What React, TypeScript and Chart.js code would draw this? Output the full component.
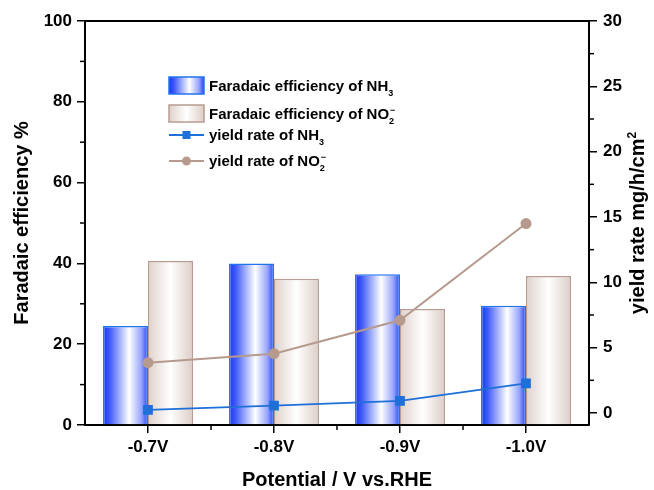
import React, { useEffect, useRef } from 'react';
import { Chart, registerables } from 'chart.js';

Chart.register(...registerables);

// ---------- data ----------
const categories = ['-0.7V', '-0.8V', '-0.9V', '-1.0V'];
const feNH3 = [24.5, 40.0, 37.3, 29.5];
const feNO2 = [40.6, 36.2, 28.7, 36.9];
const yieldNH3 = [0.23, 0.56, 0.92, 2.27];
const yieldNO2 = [3.85, 4.54, 7.09, 14.5];
const leftMajorTicks = [0, 20, 40, 60, 80, 100];
const leftMinorTicks = [10, 30, 50, 70, 90];
const rightMajorTicks = [0, 5, 10, 15, 20, 25, 30];
const rightMinorTicks = [2.5, 7.5, 12.5, 17.5, 22.5, 27.5];

type Seg = { t: string; k?: 'sub' | 'sup' };
const legendNH3FE: Seg[] = [{ t: 'Faradaic efficiency of NH' }, { t: '3', k: 'sub' }];
const legendNO2FE: Seg[] = [{ t: 'Faradaic efficiency of NO' }, { t: '2', k: 'sub' }, { t: '\u2212', k: 'sup' }];
const legendNH3Y: Seg[] = [{ t: 'yield rate of NH' }, { t: '3', k: 'sub' }];
const legendNO2Y: Seg[] = [{ t: 'yield rate of NO' }, { t: '2', k: 'sub' }, { t: '\u2212', k: 'sup' }];
const leftTitle: Seg[] = [{ t: 'Faradaic efficiency %' }];
const rightTitle: Seg[] = [{ t: 'yield rate mg/h/cm' }, { t: '2', k: 'sup' }];
const bottomTitle: Seg[] = [{ t: 'Potential / V vs.RHE' }];

const FONT = '"Liberation Sans", Arial, Helvetica, sans-serif';
const BLUE_BORDER = '#1f74ee';
const BEIGE_BORDER = '#b89c90';
const NH3_LINE = '#1d6fd9';
const NO2_LINE = '#b69a8d';

function blueGrad(ctx: CanvasRenderingContext2D, x0: number, x1: number) {
  const g = ctx.createLinearGradient(x0, 0, x1, 0);
  g.addColorStop(0, '#1e36f4');
  g.addColorStop(0.14, '#3c58f7');
  g.addColorStop(0.58, '#ffffff');
  g.addColorStop(0.85, '#98a6fb');
  g.addColorStop(1, '#2844f5');
  return g;
}
function beigeGrad(ctx: CanvasRenderingContext2D, x0: number, x1: number) {
  const g = ctx.createLinearGradient(x0, 0, x1, 0);
  g.addColorStop(0, '#dfd1cb');
  g.addColorStop(0.5, '#ffffff');
  g.addColorStop(1, '#dccdc6');
  return g;
}

function segFont(size: number, k?: string) {
  const s = k ? Math.round(size * 0.62) : size;
  return `bold ${s}px ${FONT}`;
}
function richWidth(ctx: CanvasRenderingContext2D, segs: Seg[], size: number) {
  let w = 0;
  segs.forEach((s, i) => {
    ctx.font = segFont(size, s.k);
    const mw = ctx.measureText(s.t).width;
    if (s.k === 'sup' && i > 0 && segs[i - 1].k === 'sub') {
      ctx.font = segFont(size, 'sub');
      const prev = ctx.measureText(segs[i - 1].t).width;
      w += Math.max(0, mw - prev) + 1;
    } else {
      w += mw;
    }
  });
  return w;
}
function drawRich(ctx: CanvasRenderingContext2D, segs: Seg[], x: number, y: number, size: number, align: 'left' | 'center') {
  ctx.save();
  ctx.textBaseline = 'alphabetic';
  ctx.textAlign = 'left';
  ctx.fillStyle = '#000';
  let cx = align === 'center' ? x - richWidth(ctx, segs, size) / 2 : x;
  let lastSubX = cx;
  segs.forEach((s, i) => {
    ctx.font = segFont(size, s.k);
    const w = ctx.measureText(s.t).width;
    let dy = 0;
    if (s.k === 'sub') dy = size * 0.3;
    if (s.k === 'sup') dy = -size * 0.42;
    const afterSub = s.k === 'sup' && i > 0 && segs[i - 1].k === 'sub';
    const drawX = afterSub ? lastSubX + 1 : cx;
    ctx.fillText(s.t, drawX, y + dy);
    if (s.k === 'sub') lastSubX = cx;
    cx = Math.max(afterSub ? cx : cx + w, drawX + w);
  });
  ctx.restore();
}

const decorPlugin = {
  id: 'decor',
  beforeDatasetsDraw(chart: any) {
    const ctx = chart.ctx;
    [0, 1].forEach((di) => {
      const meta = chart.getDatasetMeta(di);
      meta.data.forEach((el: any) => {
        const x0 = el.x - el.width / 2;
        const x1 = el.x + el.width / 2;
        const g = di === 0 ? blueGrad(ctx, x0, x1) : beigeGrad(ctx, x0, x1);
        el.options = Object.assign({}, el.options, { backgroundColor: g });
      });
    });
  },
  afterDraw(chart: any) {
    const ctx: CanvasRenderingContext2D = chart.ctx;
    const { left, right, top, bottom } = chart.chartArea;
    const xs = chart.scales.x;
    const yl = chart.scales.y;
    const yr = chart.scales.y1;
    ctx.save();
    ctx.strokeStyle = '#000';
    ctx.lineWidth = 2;
    ctx.beginPath();
    ctx.moveTo(left - 1, top);
    ctx.lineTo(right + 1, top);
    ctx.stroke();
    ctx.lineWidth = 1.5;
    for (let i = 0; i < categories.length - 1; i++) {
      const xm = (xs.getPixelForValue(i) + xs.getPixelForValue(i + 1)) / 2;
      ctx.beginPath();
      ctx.moveTo(xm, bottom);
      ctx.lineTo(xm, bottom + 5);
      ctx.stroke();
    }
    leftMinorTicks.forEach((v) => {
      const y = yl.getPixelForValue(v);
      ctx.beginPath();
      ctx.moveTo(left - 5, y);
      ctx.lineTo(left, y);
      ctx.stroke();
    });
    rightMinorTicks.forEach((v) => {
      const y = yr.getPixelForValue(v);
      ctx.beginPath();
      ctx.moveTo(right, y);
      ctx.lineTo(right + 5, y);
      ctx.stroke();
    });
    ctx.restore();

    const cy = (top + bottom) / 2;
    ctx.save();
    ctx.translate(28, cy);
    ctx.rotate(-Math.PI / 2);
    drawRich(ctx, leftTitle, 0, 0, 20, 'center');
    ctx.restore();
    ctx.save();
    ctx.translate(644, cy);
    ctx.rotate(-Math.PI / 2);
    drawRich(ctx, rightTitle, 0, 0, 20, 'center');
    ctx.restore();
    drawRich(ctx, bottomTitle, (left + right) / 2, 486, 20, 'center');

    // legend
    const lx = left + 84;
    const ly = top + 56;
    const bw = 35;
    const bh = 17;
    const tx = lx + 40;
    ctx.save();
    ctx.fillStyle = blueGrad(ctx, lx, lx + bw);
    ctx.fillRect(lx, ly, bw, bh);
    ctx.strokeStyle = BLUE_BORDER;
    ctx.lineWidth = 1.5;
    ctx.strokeRect(lx, ly, bw, bh);
    drawRich(ctx, legendNH3FE, tx, ly + 14, 15, 'left');
    const ly2 = ly + 28;
    ctx.fillStyle = beigeGrad(ctx, lx, lx + bw);
    ctx.fillRect(lx, ly2, bw, bh);
    ctx.strokeStyle = BEIGE_BORDER;
    ctx.strokeRect(lx, ly2, bw, bh);
    drawRich(ctx, legendNO2FE, tx, ly2 + 14, 15, 'left');
    const ly3 = ly + 58;
    ctx.strokeStyle = NH3_LINE;
    ctx.lineWidth = 2;
    ctx.beginPath();
    ctx.moveTo(lx, ly3);
    ctx.lineTo(lx + bw, ly3);
    ctx.stroke();
    ctx.fillStyle = NH3_LINE;
    ctx.fillRect(lx + bw / 2 - 4, ly3 - 4, 8, 8);
    drawRich(ctx, legendNH3Y, tx, ly3 + 5, 15, 'left');
    const ly4 = ly + 84;
    ctx.strokeStyle = NO2_LINE;
    ctx.beginPath();
    ctx.moveTo(lx, ly4);
    ctx.lineTo(lx + bw, ly4);
    ctx.stroke();
    ctx.fillStyle = NO2_LINE;
    ctx.beginPath();
    ctx.arc(lx + bw / 2, ly4, 4.5, 0, Math.PI * 2);
    ctx.fill();
    drawRich(ctx, legendNO2Y, tx, ly4 + 5, 15, 'left');
    ctx.restore();
  },
};

export default function App() {
  const ref = useRef<HTMLCanvasElement | null>(null);
  useEffect(() => {
    if (!ref.current) return;
    const tickFont = { family: FONT, size: 17, weight: 'bold' as const };
    const chart = new Chart(ref.current, {
      data: {
        labels: categories,
        datasets: [
          {
            type: 'bar',
            label: 'Faradaic efficiency of NH₃',
            data: feNH3,
            yAxisID: 'y',
            backgroundColor: '#6f82f8',
            borderColor: BLUE_BORDER,
            borderWidth: 1.5,
            barPercentage: 1,
            categoryPercentage: 0.714,
            order: 2,
          },
          {
            type: 'bar',
            label: 'Faradaic efficiency of NO₂⁻',
            data: feNO2,
            yAxisID: 'y',
            backgroundColor: '#efe7e3',
            borderColor: BEIGE_BORDER,
            borderWidth: 1.5,
            barPercentage: 1,
            categoryPercentage: 0.714,
            order: 2,
          },
          {
            type: 'line',
            label: 'yield rate of NH₃',
            data: yieldNH3,
            yAxisID: 'y1',
            borderColor: NH3_LINE,
            backgroundColor: NH3_LINE,
            borderWidth: 1.8,
            pointStyle: 'rect',
            pointRadius: 5.6,
            tension: 0,
            order: 1,
          },
          {
            type: 'line',
            label: 'yield rate of NO₂⁻',
            data: yieldNO2,
            yAxisID: 'y1',
            borderColor: NO2_LINE,
            backgroundColor: NO2_LINE,
            borderWidth: 2,
            pointStyle: 'circle',
            pointRadius: 4.5,
            tension: 0,
            order: 0,
          },
        ],
      } as any,
      options: {
        responsive: false,
        animation: false,
        devicePixelRatio: 1,
        layout: { padding: { top: 21, left: 0, right: 0, bottom: 0 } },
        plugins: { legend: { display: false }, tooltip: { enabled: false } },
        scales: {
          x: {
            type: 'category',
            offset: true,
            z: 1,
            grid: {
              display: true,
              offset: false,
              drawOnChartArea: false,
              drawTicks: true,
              tickLength: 8,
              color: '#000',
              lineWidth: 1.5,
            },
            border: { display: true, color: '#000', width: 2 },
            ticks: { font: tickFont, color: '#000', padding: 4, maxRotation: 0 },
            afterFit: (s: any) => {
              s.height = 65;
            },
          },
          y: {
            position: 'left',
            min: 0,
            max: 100,
            z: 1,
            afterBuildTicks: (s: any) => {
              s.ticks = leftMajorTicks.map((v) => ({ value: v }));
            },
            grid: {
              display: true,
              drawOnChartArea: false,
              drawTicks: true,
              tickLength: 8,
              color: '#000',
              lineWidth: 1.5,
            },
            border: { display: true, color: '#000', width: 2 },
            ticks: { font: tickFont, color: '#000', padding: 5 },
            afterFit: (s: any) => {
              s.width = 85;
            },
          },
          y1: {
            position: 'right',
            min: -0.92,
            max: 30,
            z: 1,
            afterBuildTicks: (s: any) => {
              s.ticks = rightMajorTicks.map((v) => ({ value: v }));
            },
            grid: {
              display: true,
              drawOnChartArea: false,
              drawTicks: true,
              tickLength: 8,
              color: '#000',
              lineWidth: 1.5,
            },
            border: { display: true, color: '#000', width: 2 },
            ticks: { font: tickFont, color: '#000', padding: 6 },
            afterFit: (s: any) => {
              s.width = 65;
            },
          },
        },
      } as any,
      plugins: [decorPlugin],
    });
    return () => chart.destroy();
  }, []);
  return (
    <div style={{ position: 'fixed', left: 0, top: 0, width: 654, height: 490, background: '#fff' }}>
      <canvas ref={ref} width={654} height={490} style={{ display: 'block', width: 654, height: 490 }} />
    </div>
  );
}
